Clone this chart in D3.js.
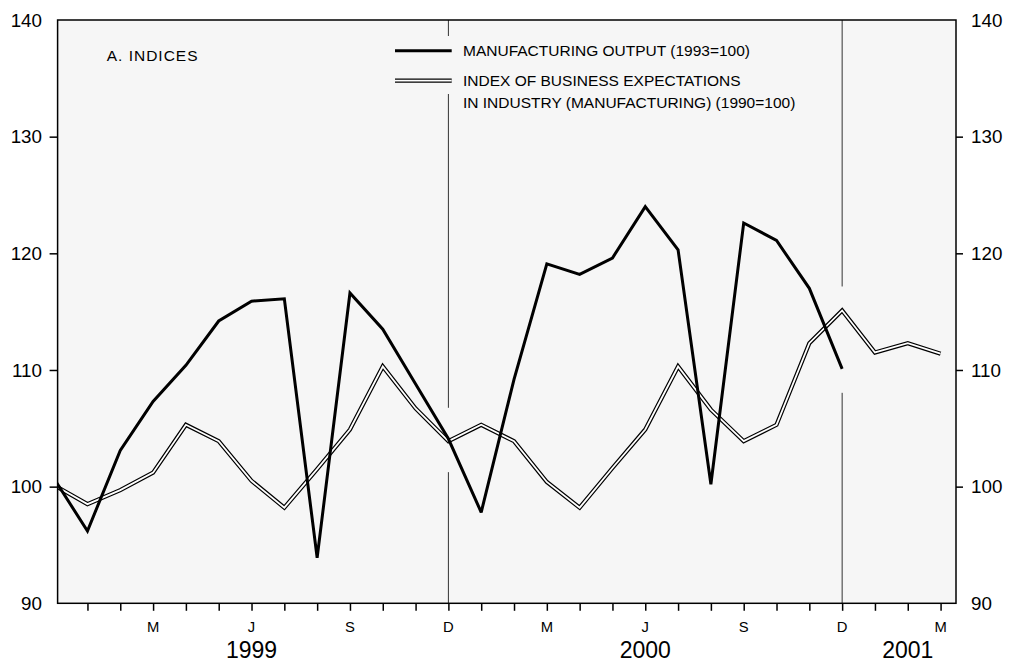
<!DOCTYPE html>
<html>
<head>
<meta charset="utf-8">
<script src="https://cdn.jsdelivr.net/npm/d3@7"></script>
<style>
  html, body { margin: 0; padding: 0; background: #ffffff; }
  svg { display: block; }
  text { font-family: "Liberation Sans", Arial, Helvetica, sans-serif; fill: #000; }
</style>
</head>
<body>
<svg id="chart" width="1009" height="663"></svg>
<script>
// Monthly observations, December 1998 through March 2001
const monthLetters = ["D","J","F","M","A","M","J","J","A","S","O","N",
                      "D","J","F","M","A","M","J","J","A","S","O","N",
                      "D","J","F","M"];
const labelledMonths = [3, 6, 9, 12, 15, 18, 21, 24, 27];
const years = ["1999", "2000", "2001"];
const yearCentres = [6, 18, 26];
const yTicks = [90, 100, 110, 120, 130, 140];

// Manufacturing output (1993=100), Dec 1998 – Dec 2000
const manufacturingOutput = [100.6, 96.2, 103.1, 107.3, 110.4, 114.2, 115.9, 116.1, 93.9,
  116.6, 113.5, 108.8, 104.1, 97.8, 109.2, 119.1, 118.2, 119.6, 124.0, 120.3, 100.2,
  122.6, 121.1, 117.0, 110.1];

// Index of business expectations in industry (1990=100), Dec 1998 – Mar 2001
const businessExpectations = [100.1, 98.5, 99.7, 101.2, 105.3, 103.9, 100.5, 98.2, 101.5,
  104.9, 110.3, 106.7, 103.9, 105.3, 103.9, 100.4, 98.2, 101.6, 104.9, 110.3, 106.6,
  103.9, 105.3, 112.3, 115.1, 111.5, 112.3, 111.4];

// Year dividers (December of each year)
const dividers = [12, 24];
const dividerGap = [31, 24];

const legendItems = [
  { label: ["MANUFACTURING OUTPUT (1993=100)"], style: "single" },
  { label: ["INDEX OF BUSINESS EXPECTATIONS", "IN INDUSTRY (MANUFACTURING) (1990=100)"], style: "double" }
];

const svg = d3.select("#chart");
const plot = { left: 57.6, right: 956, top: 20, bottom: 603.3 };
const bg = "#f6f6f6";

const x = d3.scaleLinear().domain([0.09, 27.47]).range([plot.left, plot.right]);
const y = d3.scaleLinear().domain([90, 140]).range([plot.bottom, plot.top]);

// Plot background
svg.append("rect")
  .attr("x", plot.left).attr("y", plot.top)
  .attr("width", plot.right - plot.left).attr("height", plot.bottom - plot.top)
  .attr("fill", bg);

svg.append("clipPath").attr("id", "plotClip")
  .append("rect")
  .attr("x", plot.left).attr("y", plot.top)
  .attr("width", plot.right - plot.left).attr("height", plot.bottom - plot.top);

// Year dividers, broken where the series cross them
dividers.forEach((m, k) => {
  const ys = [y(businessExpectations[m])];
  if (m < manufacturingOutput.length) ys.push(y(manufacturingOutput[m]));
  const gTop = d3.min(ys) - dividerGap[k];
  const gBot = d3.max(ys) + dividerGap[k];
  [[plot.top, gTop], [gBot, plot.bottom]].forEach(([a, b]) => {
    svg.append("line")
      .attr("x1", x(m)).attr("x2", x(m))
      .attr("y1", a).attr("y2", b)
      .attr("stroke", "#333").attr("stroke-width", 1);
  });
});

// Legend panel
const legend = svg.append("g");
legend.append("rect")
  .attr("x", 390).attr("y", 36).attr("width", 70).attr("height", 58)
  .attr("fill", bg);

const lineGen = d3.line().x((d, i) => x(i)).y(d => y(d));

const series = svg.append("g").attr("clip-path", "url(#plotClip)");

// Double-stroked expectations line
series.append("path")
  .datum(businessExpectations)
  .attr("d", lineGen)
  .attr("fill", "none").attr("stroke", "#000").attr("stroke-width", 4.2)
  .attr("stroke-linejoin", "miter").attr("stroke-miterlimit", 4);
series.append("path")
  .datum(businessExpectations)
  .attr("d", lineGen)
  .attr("fill", "none").attr("stroke", "#fff").attr("stroke-width", 1.8)
  .attr("stroke-linejoin", "miter").attr("stroke-miterlimit", 4);

// Manufacturing output line
series.append("path")
  .datum(manufacturingOutput)
  .attr("d", lineGen)
  .attr("fill", "none").attr("stroke", "#000").attr("stroke-width", 3)
  .attr("stroke-linejoin", "miter").attr("stroke-miterlimit", 2.5);

// Legend entries
const legX0 = 395, legX1 = 451.7, legTextX = 463;
const legRows = [50.7, 80.7];
const legBase = [56, 86];
legendItems.forEach((item, i) => {
  const ly = legRows[i];
  if (item.style === "single") {
    legend.append("line").attr("x1", legX0).attr("x2", legX1).attr("y1", ly).attr("y2", ly)
      .attr("stroke", "#000").attr("stroke-width", 3);
  } else {
    legend.append("line").attr("x1", legX0).attr("x2", legX1).attr("y1", ly).attr("y2", ly)
      .attr("stroke", "#000").attr("stroke-width", 4.2);
    legend.append("line").attr("x1", legX0).attr("x2", legX1).attr("y1", ly).attr("y2", ly)
      .attr("stroke", "#fff").attr("stroke-width", 1.8);
  }
  item.label.forEach((t, j) => {
    legend.append("text")
      .attr("x", legTextX).attr("y", legBase[i] + j * 22.3)
      .attr("font-size", "15.5px")
      .text(t);
  });
});

// Panel title
svg.append("text")
  .attr("x", 106.7).attr("y", 61)
  .attr("font-size", "15.5px").attr("letter-spacing", "1px")
  .text("A. INDICES");

// Frame
svg.append("rect")
  .attr("x", plot.left).attr("y", plot.top)
  .attr("width", plot.right - plot.left).attr("height", plot.bottom - plot.top)
  .attr("fill", "none").attr("stroke", "#000").attr("stroke-width", 1.5);

// Left and right value axes
const inner = yTicks.filter(v => v > 90 && v < 140);
const leftAxis = d3.axisLeft(y).tickValues(inner).tickSize(8).tickFormat("");
const rightAxis = d3.axisRight(y).tickValues(inner).tickSize(7).tickFormat("");
[[leftAxis, plot.left], [rightAxis, plot.right]].forEach(([ax, tx]) => {
  const g = svg.append("g").attr("transform", `translate(${tx},0)`).call(ax);
  g.select(".domain").remove();
  g.selectAll(".tick line").attr("stroke", "#000").attr("stroke-width", 1.5);
});

svg.append("g").selectAll("text").data(yTicks).join("text")
  .attr("x", 42).attr("y", d => y(d)).attr("dy", "0.36em")
  .attr("text-anchor", "end").attr("font-size", "18.8px")
  .text(d => d);
svg.append("g").selectAll("text").data(yTicks).join("text")
  .attr("x", 971).attr("y", d => y(d)).attr("dy", "0.36em")
  .attr("text-anchor", "start").attr("font-size", "18.8px")
  .text(d => d);

// Month axis
const monthIdx = d3.range(1, monthLetters.length);
const bottomAxis = d3.axisBottom(x).tickValues(monthIdx).tickSize(7.5).tickFormat("");
const gb = svg.append("g").attr("transform", `translate(0,${plot.bottom})`).call(bottomAxis);
gb.select(".domain").remove();
gb.selectAll(".tick line").attr("stroke", "#000").attr("stroke-width", 1.5);

svg.append("g").selectAll("text").data(labelledMonths).join("text")
  .attr("x", d => x(d)).attr("y", 632.3)
  .attr("text-anchor", "middle").attr("font-size", "14.8px")
  .text(d => monthLetters[d]);

svg.append("g").selectAll("text").data(years).join("text")
  .attr("x", (d, i) => x(yearCentres[i])).attr("y", 658)
  .attr("text-anchor", "middle").attr("font-size", "23px")
  .text(d => d);
</script>
</body>
</html>
